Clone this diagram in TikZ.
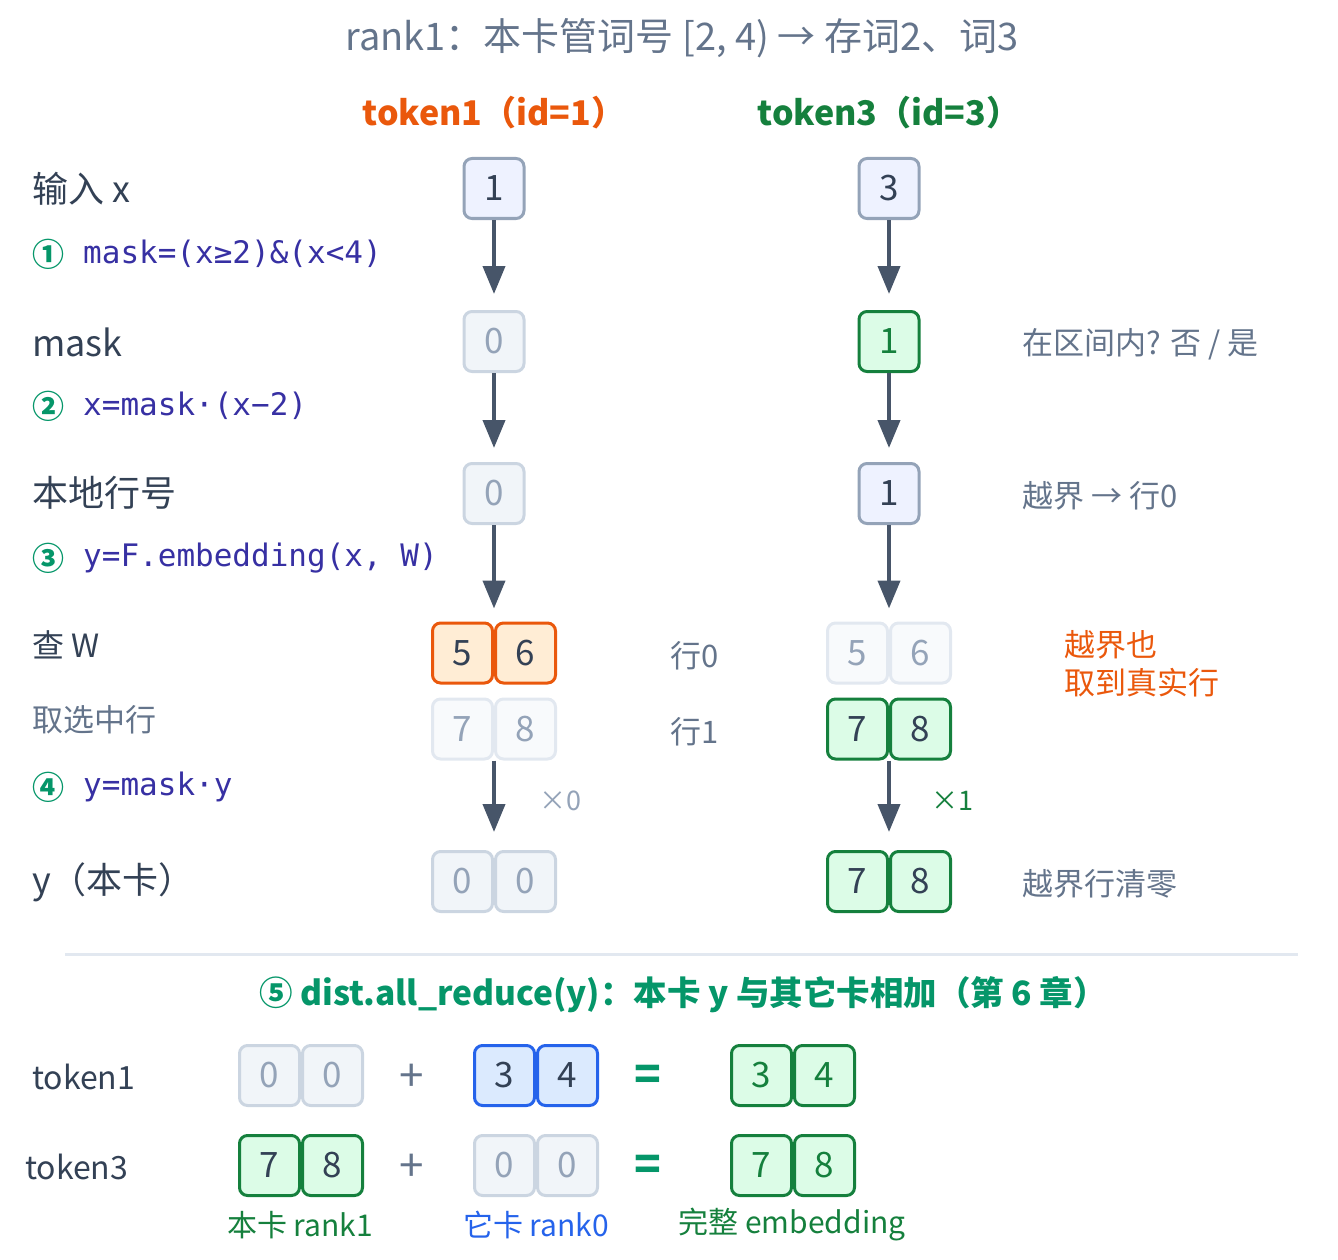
\documentclass[tikz,border=0pt]{standalone}
\usepackage{fontspec}
\setmainfont{Noto Sans CJK SC}
\setmonofont{DejaVu Sans Mono}
\usepackage{xcolor}
\usetikzlibrary{arrows.meta,positioning}

\definecolor{slate}{HTML}{64748B}
\definecolor{ink}{HTML}{334155}
\definecolor{arrc}{HTML}{475569}
\definecolor{fade}{HTML}{94A3B8}
\definecolor{codec}{HTML}{3730A3}
\definecolor{emer}{HTML}{059669}
\definecolor{grn}{HTML}{15803D}
\definecolor{org}{HTML}{EA580C}
\definecolor{blu}{HTML}{2563EB}
\definecolor{inbg}{HTML}{EEF2FF}
\definecolor{offbg}{HTML}{F1F5F9}
\definecolor{dimbg}{HTML}{F8FAFC}
\definecolor{offln}{HTML}{CBD5E1}
\definecolor{dimln}{HTML}{E2E8F0}
\definecolor{okbg}{HTML}{DCFCE7}
\definecolor{hitbg}{HTML}{FFEDD5}
\definecolor{peerbg}{HTML}{DBEAFE}

\newcommand{\fsz}[1]{\fontsize{#1}{#1}\selectfont}

\begin{document}
\begin{tikzpicture}[
  x=1pt,y=-1pt,
  every node/.style={inner sep=0pt},
  cel/.style ={rectangle,rounded corners=8pt,line width=3pt,
               minimum width=60pt,minimum height=60pt,font=\fsz{35}},
  inb/.style ={cel,fill=inbg,draw=fade,text=ink},
  off/.style ={cel,fill=offbg,draw=offln,text=fade},
  dim/.style ={cel,fill=dimbg,draw=dimln,text=fade},
  okb/.style ={cel,fill=okbg,draw=grn,text=ink},
  okg/.style ={okb,text=grn},
  hit/.style ={cel,fill=hitbg,draw=org,text=ink},
  peer/.style={cel,fill=peerbg,draw=blu,text=ink},
  flw/.style ={draw=arrc,line width=4pt,-{Triangle[width=22pt,length=28pt]}},
  lab/.style ={anchor=west,text=ink,font=\fsz{36}},
  ann/.style ={anchor=west,text=slate,font=\fsz{31}},
  stp/.style ={anchor=west,text=emer,font=\fsz{32}\bfseries},
  cod/.style ={anchor=west,text=codec,font=\ttfamily\fsz{31}},
  ]
  \useasboundingbox (0,0) rectangle (1338,1260);

  % --- titles
  \node[text=slate,font=\fsz{38}] (title) at (682,38)
    {rank1：本卡管词号 [2, 4) → 存词2、词3};
  \node[text=org,font=\fsz{34}\bfseries] (hd1) at (494,113) {token1（id=1）};
  \node[text=grn,font=\fsz{34}\bfseries] (hd3) at (889,113) {token3（id=3）};

  % --- row labels and steps on the left
  \node[lab] (lx)  at (32,189) {输入 x};
  \node[stp] (s1)  at (32,254) {①};
  \node[cod] (c1)  at (83,254) {mask=(x≥2)\&(x<4)};
  \node[lab] (lm)  at (32,342) {mask};
  \node[stp] (s2)  at (32,406) {②};
  \node[cod] (c2)  at (83,406) {x=mask·(x−2)};
  \node[lab] (ll)  at (32,493) {本地行号};
  \node[stp] (s3)  at (32,558) {③};
  \node[cod] (c3)  at (83,558) {y=F.embedding(x, W)};
  \node[lab,font=\fsz{32}] (lw) at (32,645) {查 W};
  \node[lab,font=\fsz{31},text=slate] (lr) at (32,720) {取选中行};
  \node[stp] (s4)  at (32,787) {④};
  \node[cod] (c4)  at (83,787) {y=mask·y};
  \node[lab] (ly)  at (32,882) {y（本卡）};

  % --- token1 column
  \node[inb] (x1) at (494,188.5) {1};
  \node[off] (m1) at (494,341.5) {0};
  \node[off] (r1) at (494,493.5) {0};
  \node[hit] (wa1) at (462.5,653) {5};
  \node[hit] (wb1) at (525.5,653) {6};
  \node[dim] (va1) at (462.5,729) {7};
  \node[dim] (vb1) at (525.5,729) {8};
  \node[off] (ya1) at (462.5,881.5) {0};
  \node[off] (yb1) at (525.5,881.5) {0};

  % --- token3 column
  \node[inb] (x3) at (889,188.5) {3};
  \node[okg] (m3) at (889,341.5) {1};
  \node[inb] (r3) at (889,493.5) {1};
  \node[dim] (wa3) at (857.5,653) {5};
  \node[dim] (wb3) at (920.5,653) {6};
  \node[okb] (va3) at (857.5,729) {7};
  \node[okb] (vb3) at (920.5,729) {8};
  \node[okb] (ya3) at (857.5,881.5) {7};
  \node[okb] (yb3) at (920.5,881.5) {8};

  % --- flow arrows
  \draw[flw,shorten >=16pt] (x1) -- (m1);
  \draw[flw,shorten >=14pt] (m1) -- (r1);
  \draw[flw,shorten >=13pt] (r1) -- (wa1.north east);
  \draw[flw,shorten >=18pt] (va1.south east) -- (ya1.north east);
  \draw[flw,shorten >=16pt] (x3) -- (m3);
  \draw[flw,shorten >=14pt] (m3) -- (r3);
  \draw[flw,shorten >=13pt] (r3) -- (wa3.north east);
  \draw[flw,shorten >=18pt] (va3.south east) -- (ya3.north east);

  % --- side notes
  \node[text=slate,font=\fsz{31}] (row0) at (695,656) {行0};
  \node[text=slate,font=\fsz{31}] (row1) at (695,732) {行1};
  \node[text=fade,font=\fsz{27}] (t0) at (560,801) {×0};
  \node[text=grn,font=\fsz{27}] (t1) at (952,801) {×1};
  \node[ann] (n1) at (1022,344) {在区间内? 否 / 是};
  \node[ann] (n2) at (1022,496) {越界 → 行0};
  \node[ann,text=org,align=left,font=\fontsize{31}{38}\selectfont] (n3)
    at (1064,664) {越界也\\取到真实行};
  \node[ann] (n4) at (1022,884) {越界行清零};

  % --- separator
  \coordinate (sl) at (65,954);
  \coordinate (sr) at (1298,954);
  \draw[dimln,line width=3pt] (sl) -- (sr);

  % --- all_reduce part
  \node[text=emer,font=\fsz{33.5}\bfseries] (red) at (683,995)
    {⑤ dist.all\_reduce(y)：本卡 y 与其它卡相加（第 6 章）};
  \node[lab,font=\fsz{32}] (k1) at (32,1077) {token1};
  \node[lab,font=\fsz{32}] (k3) at (25,1167) {token3};

  \node[off]  (pa1) at (269.5,1075.5) {0};
  \node[off]  (pb1) at (332.5,1075.5) {0};
  \node[text=slate,font=\fsz{44}] (pl1) at (412,1078) {+};
  \node[peer] (qa1) at (504.5,1075.5) {3};
  \node[peer] (qb1) at (567.5,1075.5) {4};
  \node[text=emer,font=\fsz{44}\bfseries] (eq1) at (648,1078) {=};
  \node[okg]  (sa1) at (761.5,1075.5) {3};
  \node[okg]  (sb1) at (824.5,1075.5) {4};

  \node[okb]  (pa3) at (269.5,1165.5) {7};
  \node[okb]  (pb3) at (332.5,1165.5) {8};
  \node[text=slate,font=\fsz{44}] (pl3) at (412,1168) {+};
  \node[off]  (qa3) at (504.5,1165.5) {0};
  \node[off]  (qb3) at (567.5,1165.5) {0};
  \node[text=emer,font=\fsz{44}\bfseries] (eq3) at (648,1168) {=};
  \node[okg]  (sa3) at (761.5,1165.5) {7};
  \node[okg]  (sb3) at (824.5,1165.5) {8};

  \node[text=grn,font=\fsz{30}] (cap1) at (300,1225) {本卡 rank1};
  \node[text=blu,font=\fsz{30}] (cap2) at (536,1225) {它卡 rank0};
  \node[text=grn,font=\fsz{30}] (cap3) at (792,1225) {完整 embedding};
\end{tikzpicture}
\end{document}
